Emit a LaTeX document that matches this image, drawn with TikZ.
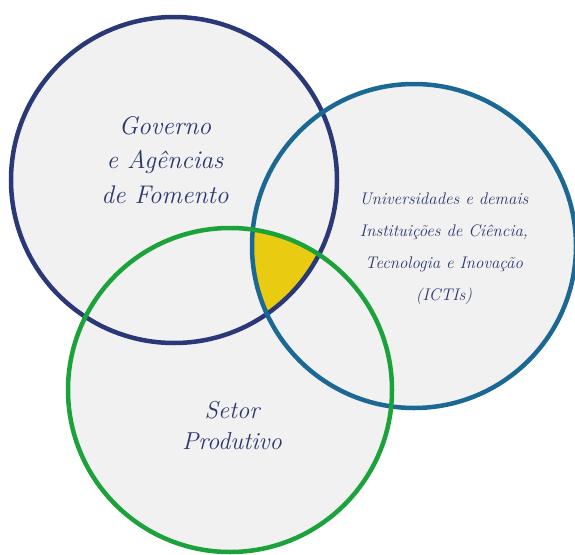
\documentclass[tikz,border=0pt]{standalone}
\usepackage{fontspec}
\definecolor{navyc}{HTML}{2A3878}
\definecolor{tealc}{HTML}{1A6893}
\definecolor{greenc}{HTML}{1BA23A}
\definecolor{yelc}{HTML}{E9CB12}
\definecolor{fillg}{HTML}{F1F1F1}
\definecolor{txtc}{HTML}{2B386F}
\begin{document}
\begin{tikzpicture}[x=1pt,y=-1pt,
  ring/.style={circle, line width=4.5pt, inner sep=0pt, minimum size=#1},
  lab/.style={text=txtc, align=center, inner sep=0pt}]
\useasboundingbox (0,0) rectangle (575,554);
% fills
\fill[fillg] (174,180) circle (163);
\fill[fillg] (414,246) circle (162);
\fill[fillg] (230,390) circle (162);
% common intersection
\begin{scope}
  \clip (174,180) circle (163);
  \clip (414,246) circle (162);
  \fill[yelc] (230,390) circle (162);
\end{scope}
% rings
\node[ring=326pt, draw=navyc] (gov) at (174,180) {};
\node[ring=324pt, draw=tealc] (ict) at (414,246) {};
\node[ring=324pt, draw=greenc] (set) at (230,390) {};
% labels
\node[lab, font=\itshape\addfontfeatures{FakeBold=0.6}\fontsize{25.5}{34.5}\selectfont] (govlab) at (165,160)
  {Governo\\e Agências\\de Fomento};
\node[lab, font=\itshape\addfontfeatures{FakeBold=0.6}\fontsize{16.8}{32}\selectfont] (ictlab) at (444,249)
  {Universidades e demais\\Instituições de Ciência,\\Tecnologia e Inovação\\(ICTIs)};
\node[lab, font=\itshape\addfontfeatures{FakeBold=0.6}\fontsize{24.5}{31}\selectfont] (setlab) at (232,425)
  {Setor\\Produtivo};
\end{tikzpicture}
\end{document}
